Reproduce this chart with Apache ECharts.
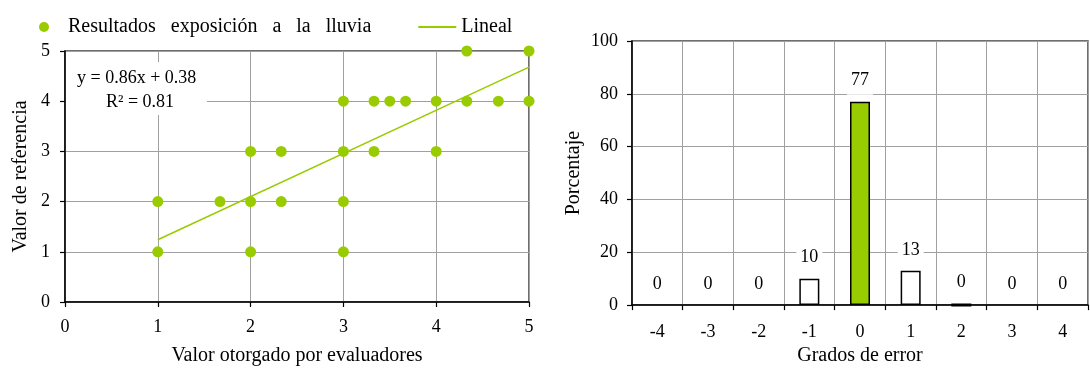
<!DOCTYPE html>
<html>
<head>
<meta charset="utf-8">
<script src="https://cdn.jsdelivr.net/npm/echarts@6/dist/echarts.min.js"></script>
<style>
  html, body { margin: 0; padding: 0; background: #ffffff; }
  #chart { width: 1090px; height: 371px; }
</style>
</head>
<body>
<div id="chart"></div>
<script>
// Scatter: rating given by evaluators (x) vs. reference value (y)
const scatterX = [1, 1, 1.67, 2, 2, 2, 2.33, 2.33, 3, 3, 3, 3, 3.33, 3.33, 3.5, 3.67, 4, 4, 4.33, 4.33, 4.67, 5, 5];
const scatterY = [1, 2, 2,    1, 2, 3, 2,    3,    1, 2, 3, 4, 3,    4,    4,   4,    3, 4, 4,    5,    4,    4, 5];

// Linear fit reported on the chart
const fitSlope = 0.86;
const fitIntercept = 0.38;
const fitR2 = 0.81;
const fitRange = [1, 5];

// Histogram of error degrees (percentage)
const errorCategories = ['-4', '-3', '-2', '-1', '0', '1', '2', '3', '4'];
const errorPercent = [0, 0, 0, 10, 77, 13, 0, 0, 0];
// categories whose (rounded-to-zero) share still shows a sliver of a bar
const errorSliver = ['2'];

const SCATTER_NAME = 'Resultados   exposición   a   la   lluvia';
const FIT_NAME = 'Lineal';

const GREEN = '#99CC00';
const GRID_GRAY = '#a0a0a0';
const FONT = '"Liberation Serif", "Times New Roman", serif';

const scatterData = scatterX.map((x, i) => [x, scatterY[i]]);
const fitData = fitRange.map(x => [x, fitSlope * x + fitIntercept]);

const barData = errorPercent.map((v, i) => {
  const cat = errorCategories[i];
  const outlined = v > 0 || errorSliver.includes(cat);
  return {
    value: v,
    itemStyle: {
      color: cat === '0' ? GREEN : '#ffffff',
      borderColor: '#000000',
      borderWidth: outlined ? (v > 0 ? 1.5 : 3) : 0
    }
  };
});

const axisLineStyle = { lineStyle: { color: '#000000', width: 1.5 } };
const tickStyle = { show: true, length: 5, lineStyle: { color: '#000000', width: 1.2 } };
const splitStyle = { show: true, lineStyle: { color: GRID_GRAY, width: 1 } };
const labelFont = { fontFamily: FONT, fontSize: 18, color: '#000000' };
const nameFont = { fontFamily: FONT, fontSize: 20, color: '#000000' };

const chart = echarts.init(document.getElementById('chart'), null, { renderer: 'canvas' });

chart.setOption({
  animation: false,
  backgroundColor: '#ffffff',
  textStyle: { fontFamily: FONT },
  legend: {
    left: 34,
    top: 12,
    itemWidth: 38,
    itemHeight: 10,
    itemGap: 46,
    textStyle: { fontFamily: FONT, fontSize: 20, color: '#000000' },
    data: [
      { name: SCATTER_NAME },
      // plain line key for the fit, no marker
      { name: FIT_NAME, itemStyle: { color: 'rgba(0,0,0,0)', borderColor: 'rgba(0,0,0,0)', borderWidth: 0 } }
    ]
  },
  grid: [
    { left: 65, top: 51, width: 464, height: 254, show: true, borderColor: '#404040', borderWidth: 1.5, backgroundColor: '#ffffff' },
    { left: 632, top: 41, width: 456, height: 269, show: true, borderColor: '#404040', borderWidth: 1.5, backgroundColor: '#ffffff' }
  ],
  xAxis: [
    {
      gridIndex: 0, type: 'value', min: 0, max: 5, interval: 1,
      name: 'Valor otorgado por evaluadores', nameLocation: 'middle', nameGap: 44,
      nameTextStyle: nameFont,
      axisLine: axisLineStyle, axisTick: tickStyle, splitLine: splitStyle,
      axisLabel: Object.assign({ margin: 16 }, labelFont)
    },
    {
      gridIndex: 1, type: 'category', data: errorCategories,
      name: 'Grados de error', nameLocation: 'middle', nameGap: 39,
      nameTextStyle: nameFont,
      axisLine: axisLineStyle,
      axisTick: Object.assign({ alignWithLabel: false }, tickStyle),
      splitLine: splitStyle,
      axisLabel: Object.assign({ margin: 18 }, labelFont)
    }
  ],
  yAxis: [
    {
      gridIndex: 0, type: 'value', min: 0, max: 5, interval: 1,
      name: 'Valor de referencia', nameLocation: 'middle', nameGap: 34, nameRotate: 90,
      nameTextStyle: nameFont,
      axisLine: Object.assign({ show: true }, axisLineStyle), axisTick: tickStyle, splitLine: splitStyle,
      axisLabel: Object.assign({ margin: 15 }, labelFont)
    },
    {
      gridIndex: 1, type: 'value', min: 0, max: 100, interval: 20,
      name: 'Porcentaje', nameLocation: 'middle', nameGap: 48, nameRotate: 90,
      nameTextStyle: nameFont,
      axisLine: Object.assign({ show: true }, axisLineStyle), axisTick: tickStyle, splitLine: splitStyle,
      axisLabel: Object.assign({ margin: 14 }, labelFont)
    }
  ],
  series: [
    {
      name: FIT_NAME,
      type: 'line',
      xAxisIndex: 0, yAxisIndex: 0,
      data: fitData,
      symbol: 'none',
      lineStyle: { color: GREEN, width: 1.5 },
      itemStyle: { color: GREEN },
      z: 3
    },
    {
      name: SCATTER_NAME,
      type: 'scatter',
      xAxisIndex: 0, yAxisIndex: 0,
      data: scatterData,
      symbol: 'circle',
      symbolSize: 11,
      itemStyle: { color: GREEN, opacity: 1 },
      z: 4
    },
    {
      type: 'bar',
      xAxisIndex: 1, yAxisIndex: 1,
      data: barData,
      barWidth: 20,
      label: {
        show: true,
        position: 'top',
        distance: 7,
        fontFamily: FONT,
        fontSize: 18,
        color: '#000000',
        backgroundColor: '#ffffff',
        padding: [5, 4]
      }
    }
  ],
  graphic: [
    {
      type: 'rect',
      shape: { x: 66, y: 62, width: 141, height: 53 },
      style: { fill: '#ffffff' },
      z: 50
    },
    {
      type: 'text',
      x: 77, y: 78,
      style: {
        text: 'y = ' + fitSlope.toFixed(2) + 'x + ' + fitIntercept.toFixed(2),
        font: '18px ' + FONT, fill: '#000000', textAlign: 'left', textVerticalAlign: 'middle'
      },
      z: 51
    },
    {
      type: 'text',
      x: 140, y: 102,
      style: {
        text: 'R\u00B2 = ' + fitR2.toFixed(2),
        font: '18px ' + FONT, fill: '#000000', textAlign: 'center', textVerticalAlign: 'middle'
      },
      z: 51
    }
  ]
});
</script>
</body>
</html>
